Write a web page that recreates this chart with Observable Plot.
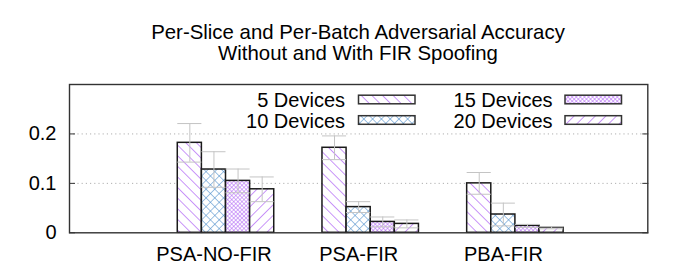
<!DOCTYPE html>
<html><head><meta charset="utf-8">
<script src="https://cdn.jsdelivr.net/npm/d3@7"></script>
<script src="https://cdn.jsdelivr.net/npm/@observablehq/plot@0.6"></script>
<style>
body{margin:0;background:#fff;font-family:"Liberation Sans",Arial,sans-serif;}
#wrap{position:relative;width:685px;height:274px;overflow:hidden;}
#title{position:absolute;left:0;top:22.4px;width:716px;text-align:center;font-size:20.4px;line-height:21px;color:#000;}
#chart{position:absolute;left:0;top:0;}
</style></head><body>
<div id="wrap"><div id="chart"></div><div id="title">Per-Slice and Per-Batch Adversarial Accuracy<br>Without and With FIR Spoofing</div></div>
<script>
const categories = ["PSA-NO-FIR", "PSA-FIR", "PBA-FIR"];
const seriesNames = ["5 Devices", "10 Devices", "15 Devices", "20 Devices"];
const dev5  = [0.182, 0.172, 0.100];
const dev10 = [0.128, 0.052, 0.037];
const dev15 = [0.105, 0.022, 0.014];
const dev20 = [0.088, 0.018, 0.010];
const err5  = [0.039, 0.024, 0.022];
const err10 = [0.036, 0.011, 0.023];
const err15 = [0.024, 0.010, 0.003];
const err20 = [0.025, 0.008, 0.002];
const yTicks = [0, 0.1, 0.2];

const vals = [dev5, dev10, dev15, dev20];
const errs = [err5, err10, err15, err20];
const hatchIds = ["hatchA", "hatchB", "hatchC", "hatchD"];
const bw = 1 / 6;
const rows = [];
categories.forEach((c, g) => {
  seriesNames.forEach((s, i) => {
    const x1 = g - 2 * bw + i * bw;
    rows.push({cat: c, series: s, g, i, v: vals[i][g], e: errs[i][g], x1, x2: x1 + bw, xc: x1 + bw / 2});
  });
});

const plot = Plot.plot({
  width: 685, height: 274,
  marginTop: 84, marginBottom: 41.7, marginLeft: 69, marginRight: 37.7,
  style: {fontFamily: "'Liberation Sans', Arial, sans-serif", fontSize: "20px", color: "#000", background: "transparent"},
  x: {domain: [-1.0816, 2.915], axis: null},
  y: {domain: [0, 0.3], axis: null},
  marks: [
    Plot.gridY(yTicks.filter(d => d > 0), {stroke: "#b0b0b0", strokeOpacity: 1, strokeDasharray: "1.2,3", strokeWidth: 1}),
    Plot.rect(rows, {x1: "x1", x2: "x2", y1: 0, y2: "v", fill: d => `url(#${hatchIds[d.i]})`, stroke: "#1a1a1a", strokeWidth: 1.5}),
    Plot.ruleX(rows, {x: "xc", y1: d => d.v - d.e, y2: d => d.v + d.e, stroke: "#c4c4c4", strokeWidth: 1}),
    Plot.ruleY(rows, {y: d => d.v + d.e, x1: "x1", x2: "x2", stroke: "#c4c4c4", strokeWidth: 1}),
    Plot.ruleY(rows, {y: d => d.v - d.e, x1: "x1", x2: "x2", stroke: "#c4c4c4", strokeWidth: 1}),
    Plot.axisY(yTicks, {anchor: "left", tickSize: 0, tickPadding: 13, tickFormat: d => d === 0 ? "0" : d.toFixed(1), fontSize: 20, label: null}),
    Plot.axisY(yTicks, {anchor: "left", tickSize: -6, tickFormat: () => "", label: null, stroke: "#333"}),
    Plot.axisY(yTicks, {anchor: "right", tickSize: -6, tickFormat: () => "", label: null, stroke: "#333"}),
    Plot.axisX([0, 1, 2], {anchor: "bottom", tickSize: 0, tickPadding: 13.5, dx: -12, tickFormat: i => categories[i], fontSize: 20, label: null}),
    Plot.frame({stroke: "#333", strokeWidth: 1.4})
  ]
});
document.getElementById("chart").appendChild(plot);

const svg = d3.select(plot);
const purple = "#a650f5", blue = "#4f8fcc";
const defs = svg.insert("defs", ":first-child");
function hatch(id, size, angle, color, cross, sw) {
  const p = defs.append("pattern").attr("id", id).attr("patternUnits", "userSpaceOnUse")
    .attr("width", size).attr("height", size).attr("patternTransform", `rotate(${angle})`);
  p.append("rect").attr("width", size).attr("height", size).attr("fill", "#fff");
  p.append("line").attr("x1", 0).attr("y1", 0).attr("x2", 0).attr("y2", size)
    .attr("style", `stroke:${color};stroke-width:${sw}`);
  if (cross) p.append("line").attr("x1", 0).attr("y1", 0).attr("x2", size).attr("y2", 0)
    .attr("style", `stroke:${color};stroke-width:${sw}`);
}
hatch("hatchA", 7.5, -45, purple, false, 1.2);  // "\"
hatch("hatchB", 6.2, 45, blue, true, 1.1);      // crosshatch
hatch("hatchC", 2.9, 45, purple, true, 0.9);    // dense crosshatch
hatch("hatchD", 7.5, 45, purple, false, 1.2);   // "/"

// Legend (inside plot, top right, two columns)
const leg = svg.append("g").attr("font-family", "'Liberation Sans', Arial, sans-serif").attr("font-size", 20);
const colText = [345, 552.5], colSw = [358.5, 565], rowC = [99.5, 120];
seriesNames.forEach((s, i) => {
  const c = Math.floor(i / 2), r = i % 2;
  leg.append("text").attr("x", colText[c]).attr("y", rowC[r] + 7.8).attr("text-anchor", "end").attr("fill", "#000").text(s);
  leg.append("rect").attr("x", colSw[c]).attr("y", rowC[r] - 4.3).attr("width", 56.5).attr("height", 8.6)
    .attr("fill", `url(#${hatchIds[i]})`).attr("stroke", "#333").attr("stroke-width", 1.5);
});
</script>
</body></html>
